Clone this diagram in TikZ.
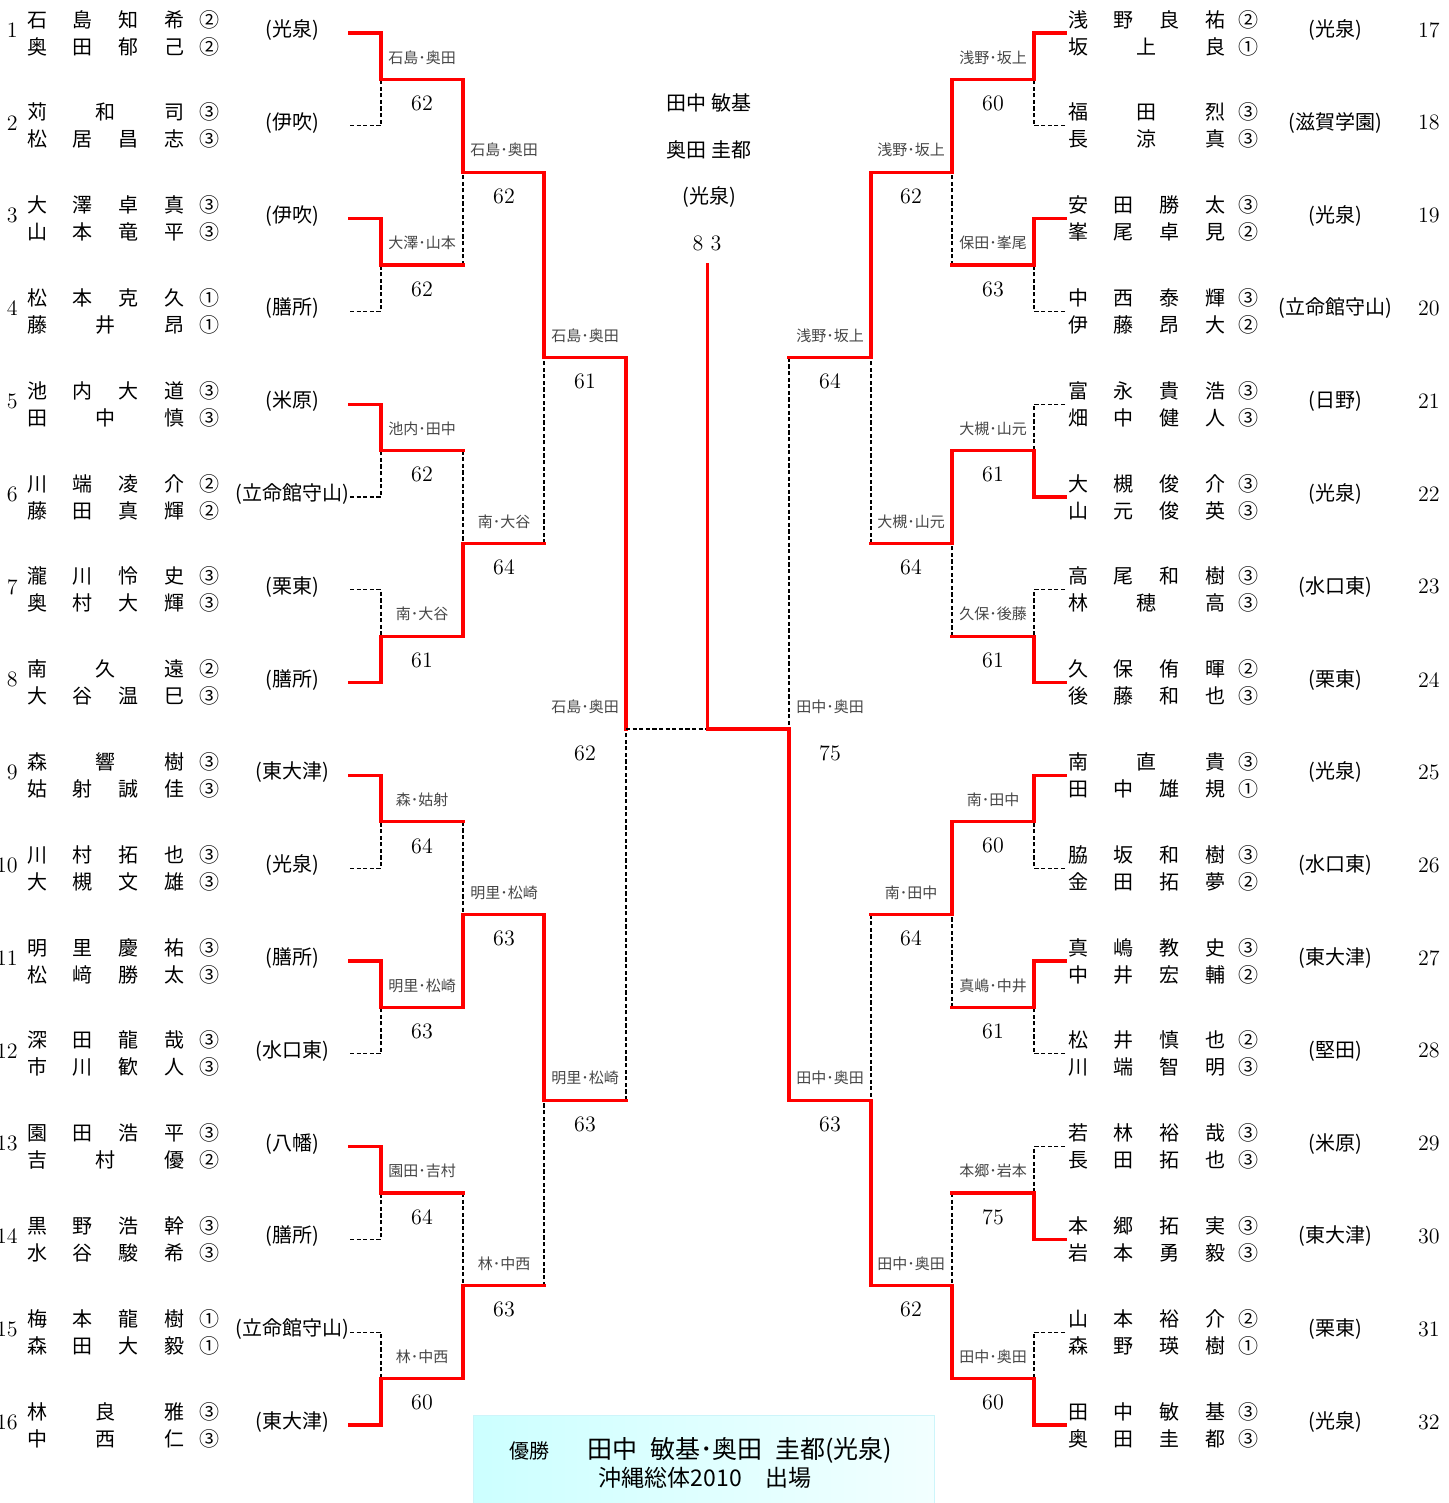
\documentclass[tikz,border=0pt]{standalone}
\usepackage{fontspec}
\newfontfamily\jp{Noto Sans CJK JP}
\definecolor{RedLine}{RGB}{255, 0, 0}
\definecolor{TagGray}{RGB}{70, 70, 70}
\definecolor{IceCyan}{RGB}{204, 255, 255}
\definecolor{PaleCyan}{RGB}{242, 255, 255}
\definecolor{EdgeCyan}{RGB}{205, 245, 250}

\begin{document}
\begin{tikzpicture}[
        x=0.5pt, y=-0.5pt,
        win/.style={draw=RedLine, line width=1.65pt, line cap=rect},
        lose/.style={draw=black, line width=0.65pt, dash pattern=on 2.1pt off 1.2pt},
        nm/.style={font=\jp\fontsize{10}{12}\selectfont, inner sep=0pt},
        tag/.style={font=\jp\fontsize{7.5}{9}\selectfont, text=TagGray, inner sep=0pt},
        pts/.style={font=\fontsize{11}{13}\selectfont, inner sep=0pt},
        big/.style={font=\jp\fontsize{12.5}{15}\selectfont, inner sep=0pt}
    ]
    \useasboundingbox (0,0) rectangle (1449,1503);

    % champion box
    \node[draw=EdgeCyan, left color=IceCyan, right color=PaleCyan, minimum width=230.5pt, minimum height=44pt, inner sep=0pt] (champ) at (703.5,1459) {};
    \node[nm] (champa) at (529,1451) {優勝};
    \node[big] (champb) at (740,1450) {田中\hspace{0.5em}敏基･奥田\hspace{0.5em}圭都(光泉)};
    \node[nm, font=\jp\fontsize{11.5}{13}\selectfont] (champc) at (705,1478) {沖縄総体2010　出場};

    % bracket points
    \foreach \i in {1,...,16}{
        \pgfmathsetmacro{\yy}{33+92.8*(\i-1)}
        \pgfmathtruncatemacro{\j}{\i+16}
        \coordinate (p\i) at (350,\yy);
        \coordinate (p\j) at (1065,\yy);
    }
    \foreach \k in {1,...,8}{
        \pgfmathsetmacro{\yy}{33+92.8*(2*\k-1.5)}
        \pgfmathtruncatemacro{\j}{\k+8}
        \coordinate (q\k) at (381,\yy);
        \coordinate (q\j) at (1034,\yy);
    }
    \foreach \k in {1,...,4}{
        \pgfmathsetmacro{\yy}{33+92.8*(4*\k-2.5)}
        \pgfmathtruncatemacro{\j}{\k+4}
        \coordinate (s\k) at (463,\yy);
        \coordinate (s\j) at (952,\yy);
    }
    \foreach \k in {1,2}{
        \pgfmathsetmacro{\yy}{33+92.8*(8*\k-4.5)}
        \pgfmathtruncatemacro{\j}{\k+2}
        \coordinate (t\k) at (544,\yy);
        \coordinate (t\j) at (871,\yy);
    }
    \coordinate (u1) at (626,729);
    \coordinate (u2) at (789,729);
    \coordinate (fin) at (707.5,729);
    \coordinate (top) at (707.5,265);

    % first round
    \foreach \w/\l/\k in {1/2/1, 3/4/2, 5/6/3, 8/7/4, 9/10/5, 11/12/6, 13/14/7, 16/15/8,
            17/18/9, 19/20/10, 22/21/11, 24/23/12, 25/26/13, 27/28/14, 30/29/15, 32/31/16}{
        \draw[lose] (p\l) -| (q\k);
        \draw[win] (p\w) -| (q\k);
    }
    % later rounds
    \foreach \w/\l/\k in {q1/q2/s1, q4/q3/s2, q6/q5/s3, q8/q7/s4, q9/q10/s5, q11/q12/s6,
            q13/q14/s7, q16/q15/s8, s1/s2/t1, s3/s4/t2, s5/s6/t3, s8/s7/t4, t1/t2/u1, t4/t3/u2}{
        \draw[lose] (\l -| \k) -- (\k);
        \draw[win] (\l) -- (\l -| \k);
        \draw[win] (\w) -| (\k);
    }
    % final
    \draw[lose] (u1) -- (fin);
    \draw[win] (t4) -| (u2) -- (fin) -- (top);

    % results
    \foreach \m/\dx/\tx/\pt in {
            q1/41/石島･奥田/62, q2/41/大澤･山本/62, q3/41/池内･田中/62, q4/41/南･大谷/61,
            q5/41/森･姑射/64, q6/41/明里･松崎/63, q7/41/園田･吉村/64, q8/41/林･中西/60,
            s1/41/石島･奥田/62, s2/41/南･大谷/64, s3/41/明里･松崎/63, s4/41/林･中西/63,
            t1/41/石島･奥田/61, t2/41/明里･松崎/63, u1/-41/石島･奥田/62,
            q9/-41/浅野･坂上/60, q10/-41/保田･峯尾/63, q11/-41/大槻･山元/61, q12/-41/久保･後藤/61,
            q13/-41/南･田中/60, q14/-41/真嶋･中井/61, q15/-41/本郷･岩本/75, q16/-41/田中･奥田/60,
            s5/-41/浅野･坂上/62, s6/-41/大槻･山元/64, s7/-41/南･田中/64, s8/-41/田中･奥田/62,
            t3/-41/浅野･坂上/64, t4/-41/田中･奥田/63, u2/41/田中･奥田/75}{
        \path (\m) ++(\dx,-22) node[tag] (lb\m) {\tx} ++(0,46) node[pts] (pt\m) {\pt};
    }

    % winners
    \node[nm] (wina) at (709,103) {田中 敏基};
    \node[nm] (winb) at (709,150) {奥田 圭都};
    \node[nm] (winc) at (709,197) {(光泉)};
    \node[pts] (wind) at (707,243) {8 3};

    % players
    \foreach \i/\na/\ga/\nb/\gb/\sch in {
            1/石 島 知 希/②/奥 田 郁 己/②/光泉,
            2/苅 和 司/③/松 居 昌 志/③/伊吹,
            3/大 澤 卓 真/③/山 本 竜 平/③/伊吹,
            4/松 本 克 久/①/藤 井 昂/①/膳所,
            5/池 内 大 道/③/田 中 慎/③/米原,
            6/川 端 凌 介/②/藤 田 真 輝/②/立命館守山,
            7/瀧 川 怜 史/③/奥 村 大 輝/③/栗東,
            8/南 久 遠/②/大 谷 温 巳/③/膳所,
            9/森 響 樹/③/姑 射 誠 佳/③/東大津,
            10/川 村 拓 也/③/大 槻 文 雄/③/光泉,
            11/明 里 慶 祐/③/松 﨑 勝 太/③/膳所,
            12/深 田 龍 哉/③/市 川 歓 人/③/水口東,
            13/園 田 浩 平/③/吉 村 優/②/八幡,
            14/黒 野 浩 幹/③/水 谷 駿 希/③/膳所,
            15/梅 本 龍 樹/①/森 田 大 毅/①/立命館守山,
            16/林 良 雅/③/中 西 仁/③/東大津,
            17/浅 野 良 祐/②/坂 上 良/①/光泉,
            18/福 田 烈/③/長 涼 真/③/滋賀学園,
            19/安 田 勝 太/③/峯 尾 卓 見/②/光泉,
            20/中 西 泰 輝/③/伊 藤 昂 大/②/立命館守山,
            21/富 永 貴 浩/③/畑 中 健 人/③/日野,
            22/大 槻 俊 介/③/山 元 俊 英/③/光泉,
            23/高 尾 和 樹/③/林 穂 高/③/水口東,
            24/久 保 侑 暉/②/後 藤 和 也/③/栗東,
            25/南 直 貴/③/田 中 雄 規/①/光泉,
            26/脇 坂 和 樹/③/金 田 拓 夢/②/水口東,
            27/真 嶋 教 史/③/中 井 宏 輔/②/東大津,
            28/松 井 慎 也/②/川 端 智 明/③/堅田,
            29/若 林 裕 哉/③/長 田 拓 也/③/米原,
            30/本 郷 拓 実/③/岩 本 勇 毅/③/東大津,
            31/山 本 裕 介/②/森 野 瑛 樹/①/栗東,
            32/田 中 敏 基/③/奥 田 圭 都/③/光泉}{
        \pgfmathtruncatemacro{\rw}{mod(\i-1,16)}
        \pgfmathsetmacro{\yy}{33+92.8*\rw}
        \ifnum\i<17 \def\xn{105.5}\def\xg{209}\def\xs{292}\def\xi{18}%
        \else \def\xn{1146.5}\def\xg{1248}\def\xs{1335}\def\xi{1440}\fi
        \node[nm] (na\i) at (\xn,\yy-13.5) {\makebox[78.5pt][s]{\na}};
        \node[nm] (ga\i) at (\xg,\yy-13.5) {\ga};
        \node[nm] (nb\i) at (\xn,\yy+13.5) {\makebox[78.5pt][s]{\nb}};
        \node[nm] (gb\i) at (\xg,\yy+13.5) {\gb};
        \node[nm] (sc\i) at (\xs,\yy-3) {(\sch)};
        \node[pts, anchor=east] (no\i) at (\xi,\yy-3) {\i};
    }
\end{tikzpicture}
\end{document}
